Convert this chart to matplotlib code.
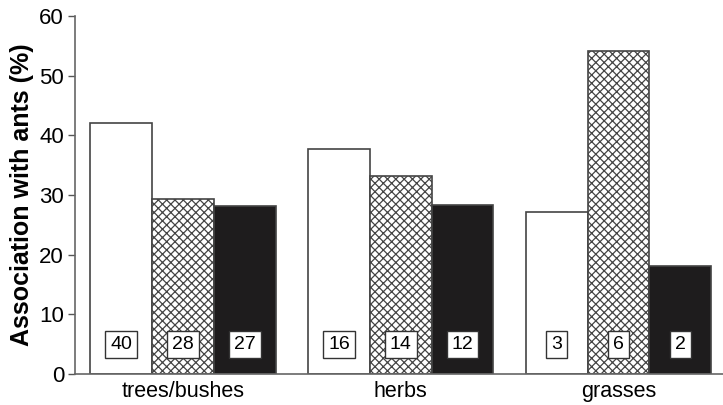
import numpy as np
import matplotlib
matplotlib.use("Agg")
from matplotlib import pyplot as plt

# values
groups = ["trees/bushes", "herbs", "grasses"]
open_vals = [42.0, 37.8, 27.2]
hatched_vals = [29.3, 33.2, 54.2]
black_vals = [28.2, 28.4, 18.1]
open_n = [40, 16, 3]
hatched_n = [28, 14, 6]
black_n = [27, 12, 2]

plt.rcParams['font.family'] = ['Liberation Sans', 'DejaVu Sans']
plt.rcParams['hatch.color'] = '#555555'
plt.rcParams['hatch.linewidth'] = 0.9

fig = plt.figure(figsize=(7.23, 4.05), dpi=100)
ax = fig.add_axes([0.104, 0.077, 0.896, 0.883])

x = np.arange(len(groups))
w = 0.284
edge = '#444444'

ax.bar(x - w, open_vals, w, color='white', edgecolor=edge, linewidth=1.2)
ax.bar(x, hatched_vals, w, color='white', edgecolor=edge, linewidth=1.2, hatch='xxxx')
ax.bar(x + w, black_vals, w, color='#1e1c1d', edgecolor=edge, linewidth=1.2)

box = dict(boxstyle='square,pad=0.25', facecolor='white', edgecolor='#333333', linewidth=1)
for i in range(len(groups)):
    for dx, n in zip([-w, 0, w], [open_n[i], hatched_n[i], black_n[i]]):
        ax.text(x[i] + dx, 4.9, str(n), ha='center', va='center', fontsize=14, bbox=box)

ax.set_xlim(-0.495, 2.48)
ax.set_ylim(0, 60)
ax.set_yticks(range(0, 61, 10))
ax.set_xticks(x)
ax.set_xticklabels(groups, fontsize=15.5)
ax.tick_params(axis='x', length=0, pad=5)
ax.tick_params(axis='y', labelsize=16, length=5, width=1, color='#555555', pad=3)
ax.set_ylabel("Association with ants (%)", fontsize=18, fontweight='bold', labelpad=4)

for s in ['top', 'right']:
    ax.spines[s].set_visible(False)
for s in ['left', 'bottom']:
    ax.spines[s].set_color('#666666')
    ax.spines[s].set_linewidth(1.2)

fig.savefig("out.png", dpi=100)
